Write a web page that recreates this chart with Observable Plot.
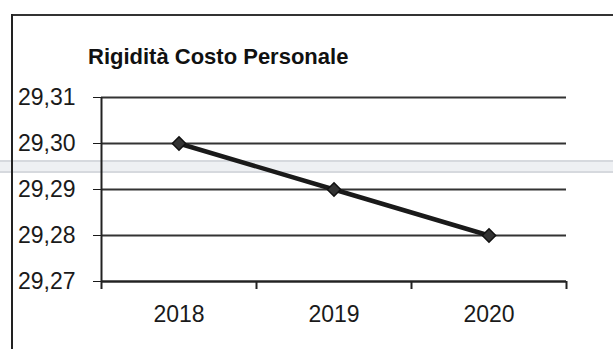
<!DOCTYPE html>
<html>
<head>
<meta charset="utf-8">
<script src="https://cdn.jsdelivr.net/npm/d3@7"></script>
<script src="https://cdn.jsdelivr.net/npm/@observablehq/plot@0.6"></script>
<style>
  html, body { margin: 0; padding: 0; background: #fff; overflow: hidden; }
  #wrap { position: relative; width: 613px; height: 349px; overflow: hidden; background: #fff; }
  #frame-top { position: absolute; left: 11px; top: 14px; width: 602px; height: 0; border-top: 2px solid #333; }
  #frame-left { position: absolute; left: 11px; top: 14px; width: 0; height: 335px; border-left: 2px solid #222; }
  #title { position: absolute; left: 88px; top: 46px; font: bold 22px "Liberation Sans", Arial, sans-serif;
           line-height: 22px; color: #111; white-space: nowrap; }
  #scan { position: absolute; left: 0; top: 160px; width: 613px; height: 9px;
          border-top: 2px solid #d6d9de; border-bottom: 2px solid #d6d9de; background: #eef0f3; }
  #chart { position: absolute; left: 0; top: 0; }
</style>
</head>
<body>
<div id="wrap">
  <div id="scan"></div>
  <div id="frame-top"></div>
  <div id="frame-left"></div>
  <div id="chart"></div>
  <div id="title">Rigidità Costo Personale</div>
</div>
<script>
const years = [2018, 2019, 2020];
const values = [29.30, 29.29, 29.28];
const yTicks = [29.27, 29.28, 29.29, 29.30, 29.31];
const title = "Rigidità Costo Personale";

const data = years.map((y, i) => ({year: y, value: values[i]}));
const bounds = [years[0] - 0.5, ...years.map(y => y + 0.5)];
const fmt = d => d.toFixed(2).replace(".", ",");

const chart = Plot.plot({
  width: 613,
  height: 349,
  marginLeft: 101,
  marginRight: 47,
  marginTop: 97,
  marginBottom: 68,
  style: {fontFamily: '"Liberation Sans", Arial, sans-serif', fontSize: "23px", color: "#1a1a1a", background: "transparent"},
  x: {domain: [bounds[0], bounds[bounds.length - 1]], ticks: years, tickSize: 0, tickPadding: 24, tickFormat: d => String(d), label: null},
  y: {domain: [yTicks[0], yTicks[yTicks.length - 1]], ticks: yTicks, tickSize: 8, tickPadding: 18, tickFormat: fmt, label: null},
  marks: [
    Plot.ruleY(yTicks, {stroke: "#333", strokeWidth: 2.2}),
    Plot.ruleX(bounds, {y1: yTicks[0], y2: yTicks[0], insetTop: 0, insetBottom: -8, stroke: "#222", strokeWidth: 2}),
    Plot.ruleX([bounds[0]], {y1: yTicks[0], y2: yTicks[yTicks.length - 1], stroke: "#222", strokeWidth: 2}),
    Plot.ruleY([yTicks[0]], {stroke: "#222", strokeWidth: 2}),
    Plot.line(data, {x: "year", y: "value", stroke: "#1a1a1a", strokeWidth: 4.5}),
    Plot.dot(data, {x: "year", y: "value", symbol: "diamond2", r: 6, fill: "#333", stroke: "#111", strokeWidth: 1.5})
  ]
});
chart.querySelectorAll("[aria-label='y-axis'] line, [aria-label='y-axis tick'] line").forEach(l => { l.setAttribute("stroke", "#333"); l.setAttribute("stroke-width", "2.2"); });
document.getElementById("chart").appendChild(chart);
</script>
</body>
</html>
